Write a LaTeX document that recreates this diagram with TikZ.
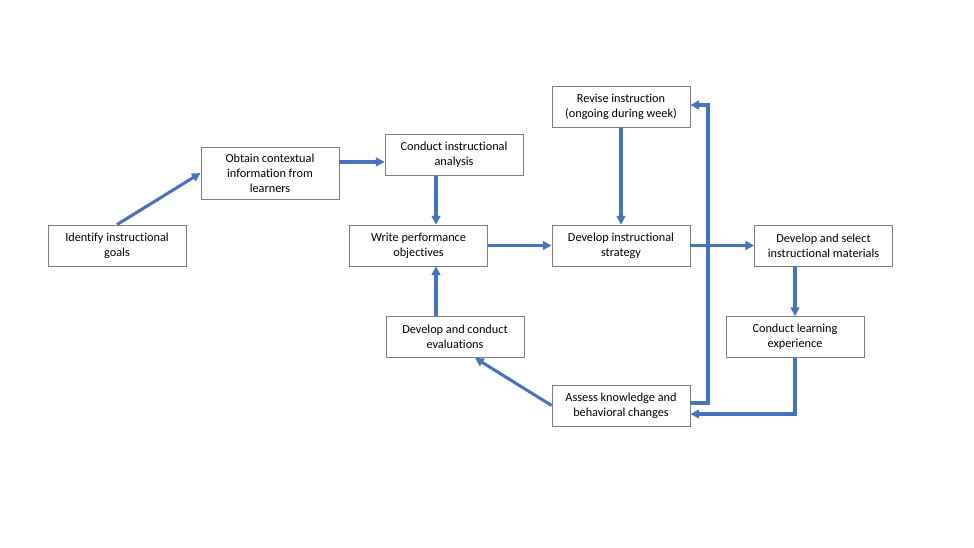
\documentclass[tikz,border=0pt]{standalone}
\usepackage{fontspec}
\setmainfont{Carlito}[Ligatures=NoCommon]
\usetikzlibrary{arrows.meta}
\definecolor{arrowblue}{HTML}{4472C4}
\definecolor{boxedge}{HTML}{7F7F7F}
\begin{document}
\begin{tikzpicture}[x=0.75pt,y=-0.75pt,
  stepbox/.style={draw=boxedge,line width=0.6pt,fill=white,align=center,
    minimum width=103.5pt,minimum height=30.75pt,inner sep=1pt,
    font=\fontsize{9.2pt}{11.2pt}\selectfont},
  flow/.style={draw=arrowblue,line width=2.3pt,
    -{Triangle[length=6.5pt,width=6.5pt]}}]
\useasboundingbox (0,0) rectangle (974,547);
\node[stepbox] (identify) at (117,245.5) {Identify instructional\\goals};
\node[stepbox,minimum height=39pt] (obtain) at (270,173) {Obtain contextual\\information from\\learners};
\node[stepbox] (analysis) at (454,155) {Conduct instructional\\analysis};
\node[stepbox] (write) at (418.5,245.5) {Write performance\\objectives};
\node[stepbox] (revise) at (621,106.5) {Revise instruction\\(ongoing during week)};
\node[stepbox] (strategy) at (621,245.5) {Develop instructional\\strategy};
\node[stepbox] (select) at (823.5,245.5) {Develop and select\\instructional materials};
\node[stepbox] (learn) at (795,337) {Conduct learning\\experience};
\node[stepbox] (eval) at (455,337) {Develop and conduct\\evaluations};
\node[stepbox] (assess) at (621,405.5) {Assess knowledge and\\behavioral changes};
\coordinate (loop) at (708,403);
\draw[flow] (identify.north) -- (obtain.west);
\draw[flow] (obtain.east |- 0,162) -- (analysis.west |- 0,162);
\draw[flow] (analysis.south -| 436,0) -- (write.north -| 436,0);
\draw[flow] (write.east) -- (strategy.west);
\draw[flow] (revise.south) -- (strategy.north);
\draw[flow] (assess.east |- loop) -- (loop) |- (revise.east |- 0,105);
\draw[flow] (strategy.east) -- (select.west);
\draw[flow] (learn.north |- select.south) -- (learn.north);
\draw[flow] (learn.south) |- (assess.east |- 0,414);
\draw[flow] (assess.west) -- (eval.south -| 475,0);
\draw[flow] (eval.north -| 436,0) -- (write.south -| 436,0);
\end{tikzpicture}
\end{document}
